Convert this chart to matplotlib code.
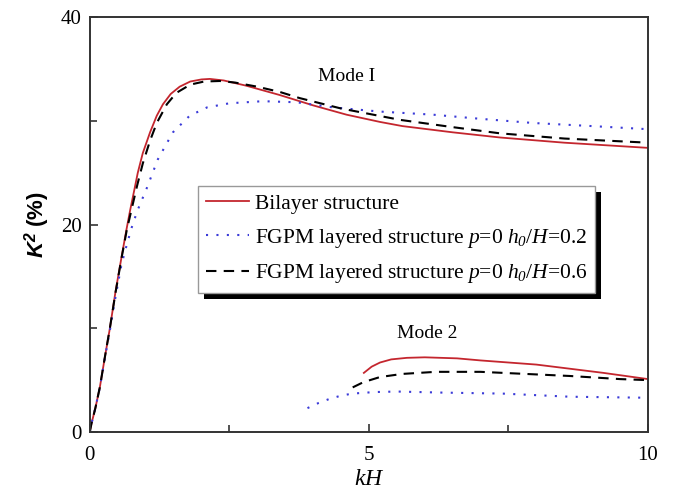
import matplotlib
matplotlib.use('Agg')
import matplotlib.pyplot as plt
import matplotlib.patheffects as pe

plt.rcParams['font.family'] = 'Liberation Serif'
plt.rcParams['mathtext.fontset'] = 'custom'
plt.rcParams['mathtext.rm'] = 'Liberation Serif'
plt.rcParams['mathtext.it'] = 'Liberation Serif:italic'
plt.rcParams['mathtext.sf'] = 'Liberation Serif:italic'
plt.rcParams['mathtext.bf'] = 'Liberation Sans:bold:italic'

# mode I
kh_bi = [0, 0.03, 0.1, 0.18, 0.27, 0.36, 0.46, 0.57, 0.66, 0.72, 0.8, 0.86, 0.95, 1.08, 1.2,
         1.31, 1.45, 1.61, 1.8, 2.0, 2.15, 2.4, 2.8, 3.4, 4.0, 4.6, 5.2, 5.6, 6.5, 7.35, 8.5, 10]
k2_bi = [0, 0.8, 2.3, 4.3, 7.2, 10.0, 13.5, 16.9, 19.6, 21.3, 23.4, 25.0, 26.9, 28.9, 30.5,
         31.6, 32.6, 33.3, 33.8, 34.0, 34.05, 33.9, 33.4, 32.5, 31.5, 30.6, 29.9, 29.5, 28.9, 28.4, 27.9, 27.4]

kh_02 = [0, 0.03, 0.1, 0.18, 0.27, 0.36, 0.46, 0.57, 0.66, 0.75, 0.85, 1.02, 1.22, 1.49, 1.79,
         2.1, 2.5, 3.1, 3.7, 4.36, 5.2, 6.15, 7.0, 7.94, 9.0, 10]
k2_02 = [0, 0.8, 2.3, 4.3, 7.1, 9.8, 13.0, 16.2, 18.0, 19.7, 21.3, 23.5, 26.3, 28.9, 30.5,
         31.3, 31.7, 31.9, 31.8, 31.3, 30.9, 30.6, 30.2, 29.8, 29.5, 29.2]

kh_06 = [0, 0.03, 0.1, 0.18, 0.27, 0.36, 0.46, 0.57, 0.66, 0.75, 0.85, 0.95, 1.08, 1.2, 1.38,
         1.55, 1.8, 2.05, 2.33, 2.6, 3.0, 3.4, 3.76, 4.5, 5.56, 6.5, 7.35, 8.5, 10]
k2_06 = [0, 0.8, 2.3, 4.3, 7.2, 10.0, 13.4, 16.8, 19.4, 21.5, 23.8, 25.9, 28.1, 29.8, 31.6,
         32.7, 33.5, 33.8, 33.85, 33.7, 33.3, 32.8, 32.2, 31.2, 30.1, 29.4, 28.8, 28.3, 27.9]

# mode 2
kh_bi2 = [4.91, 5.05, 5.2, 5.4, 5.68, 6.0, 6.58, 7.0, 8.0, 9.2, 10]
k2_bi2 = [5.7, 6.3, 6.7, 7.0, 7.15, 7.2, 7.1, 6.9, 6.5, 5.7, 5.1]

kh_062 = [4.71, 4.9, 5.2, 5.6, 6.2, 7.0, 7.4, 8.6, 9.5, 10]
k2_062 = [4.3, 4.8, 5.3, 5.6, 5.8, 5.8, 5.7, 5.4, 5.1, 5.0]

kh_022 = [3.9, 4.1, 4.3, 4.5, 4.7, 5.1, 5.5, 6.3, 7.4, 8.6, 10]
k2_022 = [2.3, 2.8, 3.2, 3.5, 3.7, 3.85, 3.9, 3.8, 3.7, 3.4, 3.3]

red = '#c4262e'
blue = '#3b3bd8'

fig = plt.figure(figsize=(6.75, 4.92), dpi=100)
ax = fig.add_axes([0.133, 0.122, 0.827, 0.843])

ax.plot(kh_bi, k2_bi, color=red, lw=1.3, label='Bilayer structure')
ax.plot(kh_02, k2_02, color=blue, lw=1.5, ls=(0, (1, 4)),
        label=r'FGPM layered structure $p$=0 $h_{\mathsf{0}}$/$H$=0.2')
ax.plot(kh_06, k2_06, color='black', lw=1.5, ls=(0, (5, 3.5)),
        label=r'FGPM layered structure $p$=0 $h_{\mathsf{0}}$/$H$=0.6')
ax.plot(kh_bi2, k2_bi2, color=red, lw=1.3)
ax.plot(kh_022, k2_022, color=blue, lw=1.5, ls=(0, (1, 4)))
ax.plot(kh_062, k2_062, color='black', lw=1.5, ls=(0, (5, 3.5)))

ax.set_xlim(0, 10)
ax.set_ylim(0, 40)
ax.set_xticks([0, 5, 10])
ax.set_xticks([2.5, 7.5], minor=True)
ax.set_yticks([0, 20, 40])
ax.set_yticks([10, 30], minor=True)
ax.tick_params(which='both', direction='in', labelsize=15, color='#333333')
ax.tick_params(which='major', length=6, width=1.2)
ax.tick_params(which='minor', length=5, width=1.2)
ax.tick_params(axis='x', pad=10)
ax.tick_params(axis='y', pad=6)
for s in ax.spines.values():
    s.set_linewidth(1.4)
    s.set_color('#333333')

ax.set_xlabel(r'$kH$', fontsize=17, labelpad=3)
ax.set_ylabel(r'$\mathbf{K}^{\mathbf{2}}$ (%)', fontsize=16, fontfamily='Liberation Sans',
              fontweight='bold', labelpad=6)

ax.text(4.6, 34.3, 'Mode I', fontsize=14, ha='center', va='center')
ax.text(6.05, 9.5, 'Mode 2', fontsize=14, ha='center', va='center')

leg = ax.legend(loc='upper left', bbox_to_anchor=(0.194, 0.593), borderaxespad=0,
                fontsize=15.5, frameon=True, fancybox=False, framealpha=1, handlelength=2.0,
                handletextpad=0.3, labelspacing=0.6, borderpad=0.35)
frame = leg.get_frame()
frame.set_edgecolor('#999999')
frame.set_linewidth(1.0)
frame.set_path_effects([pe.SimplePatchShadow(offset=(4, -4), shadow_rgbFace='black', alpha=1),
                        pe.Normal()])

fig.savefig('out.png', dpi=100)
